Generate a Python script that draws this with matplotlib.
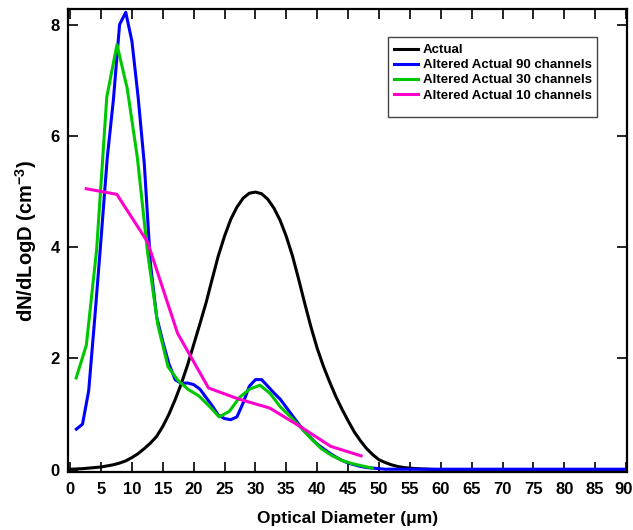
import matplotlib
matplotlib.use("Agg")
import matplotlib.pyplot as plt
from matplotlib.patches import Rectangle
from matplotlib.transforms import ScaledTranslation

plt.rcParams['font.family'] = ['Liberation Sans', 'DejaVu Sans']
plt.rcParams['font.weight'] = 'bold'
plt.rcParams['mathtext.fontset'] = 'custom'
plt.rcParams['mathtext.rm'] = 'Liberation Sans:bold'
plt.rcParams['mathtext.bf'] = 'Liberation Sans:bold'

# ---- data ----
actual_x = list(range(0, 61)) + [70, 80, 90]
actual_y = [0.01, 0.015, 0.02, 0.03, 0.04, 0.05, 0.07, 0.09, 0.12, 0.16,
            0.22, 0.29, 0.38, 0.48, 0.6, 0.78, 1.0, 1.26, 1.55, 1.88,
            2.25, 2.62, 3.0, 3.43, 3.85, 4.2, 4.5, 4.72, 4.88, 4.97,
            4.99, 4.96, 4.86, 4.7, 4.48, 4.19, 3.84, 3.42, 2.98, 2.56,
            2.18, 1.86, 1.58, 1.32, 1.09, 0.88, 0.68, 0.52, 0.38, 0.27,
            0.18, 0.13, 0.09, 0.06, 0.04, 0.03, 0.02, 0.015, 0.01, 0.005,
            0.0, 0.0, 0.0, 0.0]

ch90_x = list(range(1, 91))
ch90_y = [0.73, 0.82, 1.42, 2.75, 4.15, 5.6, 6.65, 8.0, 8.22, 7.7,
          6.7, 5.5, 3.7, 2.75, 2.3, 1.9, 1.62, 1.55, 1.56, 1.53,
          1.45, 1.3, 1.15, 0.98, 0.92, 0.9, 0.95, 1.2, 1.5, 1.62,
          1.62, 1.5, 1.38, 1.27, 1.12, 0.97, 0.82, 0.68, 0.57, 0.46,
          0.38, 0.3, 0.23, 0.17, 0.12, 0.09, 0.06, 0.04, 0.03, 0.02] + [0.01] * 40

ch30_x = [0.97, 2.62, 4.28, 5.93, 7.58, 9.24, 10.89, 12.54, 14.2, 15.85,
          17.5, 19.15, 20.81, 22.46, 24.11, 25.77, 27.42, 29.07, 30.73, 32.38,
          34.03, 35.69, 37.34, 38.99, 40.65, 42.3, 43.95, 45.61, 47.26, 48.91]
ch30_y = [1.65, 2.24, 3.95, 6.7, 7.64, 6.85, 5.6, 3.9, 2.6, 1.85,
          1.6, 1.44, 1.33, 1.15, 0.95, 1.05, 1.3, 1.45, 1.52, 1.37,
          1.13, 0.95, 0.76, 0.56, 0.38, 0.26, 0.17, 0.11, 0.07, 0.03]

ch10_x = [2.6, 7.55, 12.5, 17.4, 22.4, 27.3, 32.3, 37.2, 42.2, 47.1]
ch10_y = [5.05, 4.95, 4.1, 2.45, 1.47, 1.27, 1.11, 0.78, 0.42, 0.25]

labels = ["Actual", "Altered Actual 90 channels", "Altered Actual 30 channels",
          "Altered Actual 10 channels"]
colors = ["#000000", "#0000ff", "#00c800", "#ff00cc"]

xticks = list(range(0, 91, 5))
yticks = [0, 2, 4, 6, 8]

# ---- figure ----
fig = plt.figure(figsize=(6.33, 5.30), dpi=100)
ax = fig.add_axes([68 / 633, 1 - 472 / 530, (627 - 68) / 633, (472 - 9) / 530])

series = [(actual_x, actual_y), (ch90_x, ch90_y), (ch30_x, ch30_y), (ch10_x, ch10_y)]
for (xs, ys), c, lab in zip(series, colors, labels):
    ax.plot(xs, ys, color=c, lw=2.2, label=lab, solid_joinstyle='round')

ax.set_xlim(-0.35, 90.15)
ax.set_ylim(-0.04, 8.28)
ax.set_xticks(xticks)
ax.set_yticks(yticks)
ax.tick_params(direction='in', length=7, width=1.2, top=True, right=True,
               labelsize=12, pad=6)
ax.tick_params(axis='x', pad=7)
for s in ax.spines.values():
    s.set_linewidth(1.6)

# keep the last x tick label inside the picture
last = ax.get_xticklabels()[-1]
last.set_transform(last.get_transform() + ScaledTranslation(-3 / 100, 0, fig.dpi_scale_trans))

ax.set_xlabel("Optical Diameter (μm)", fontsize=12.5, fontweight='bold', labelpad=10)
ax.set_ylabel(r"dN/dLogD (cm$^{-3}$)", fontsize=14.5, fontweight='bold', labelpad=8)

leg = ax.legend(loc='upper left', bbox_to_anchor=((388 - 68) / 559, (472 - 38) / 463),
                frameon=False, fontsize=9.5, handlelength=1.8, handletextpad=0.4,
                labelspacing=0.22, borderpad=0.45, borderaxespad=0)
for line in leg.get_lines():
    line.set_linewidth(2.2)

ax.add_patch(Rectangle(((388 - 68) / 559, (472 - 117) / 463), (597 - 388) / 559, 80 / 463,
                       transform=ax.transAxes, fill=False, edgecolor='#444444', lw=1.0,
                       zorder=5))

fig.savefig("out.png", dpi=100)
